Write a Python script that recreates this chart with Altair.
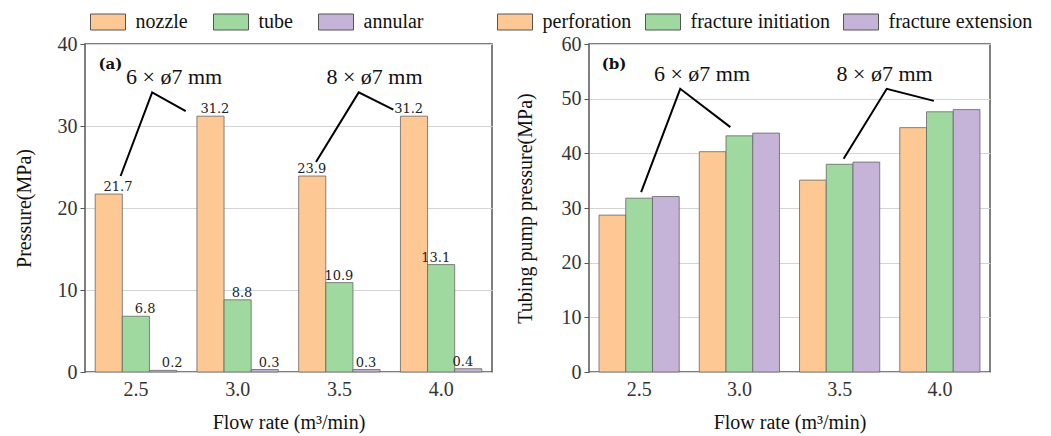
import altair as alt
import pandas as pd

# ---------------- data ----------------
flow_rates = ["2.5", "3.0", "3.5", "4.0"]

a_series = ["nozzle", "tube", "annular"]
nozzle = [21.7, 31.2, 23.9, 31.2]
tube = [6.8, 8.8, 10.9, 13.1]
annular = [0.2, 0.3, 0.3, 0.4]

b_series = ["perforation", "fracture initiation", "fracture extension"]
perforation = [28.7, 40.3, 35.1, 44.7]
initiation = [31.8, 43.2, 38.0, 47.6]
extension = [32.1, 43.7, 38.4, 48.0]

colors = ["#FDC894", "#A0D9A0", "#C5B3D8"]

# annotation callouts (x in category units 0..4, y in MPa)
a_line_x = [[0.35, 0.66, 0.99], [2.27, 2.69, 3.03]]
a_line_y = [[23.9, 34.1, 31.8], [25.6, 34.1, 32.0]]
a_label_x = [0.875, 2.845]
a_label_y = [35.1, 35.1]
b_line_x = [[0.52, 0.91, 1.41], [2.54, 2.97, 3.44]]
b_line_y = [[32.9, 51.8, 44.8], [39.0, 51.8, 49.6]]
b_label_x = [1.127, 2.948]
b_label_y = [53.2, 53.2]
callout_text = ["6 × ø7 mm", "8 × ø7 mm"]

FONT = "Liberation Serif"


def long_df(series, cols):
    rows = []
    for s, vals in zip(series, cols):
        for f, v in zip(flow_rates, vals):
            rows.append({"flow": f, "series": s, "value": v})
    return pd.DataFrame(rows)


def lines_df(xs, ys):
    rows = []
    for g, (lx, ly) in enumerate(zip(xs, ys)):
        for i, (x, y) in enumerate(zip(lx, ly)):
            rows.append({"g": g, "i": i, "x": x, "value": y})
    return pd.DataFrame(rows)


def panel(df, series, ymax, yvals, ytitle, width, legend_x, col_pad,
          line_xs, line_ys, lab_x, lab_y, tag, tag_x, tag_y, with_values,
          title_pad):
    xenc = alt.X("flow:N", sort=flow_rates,
                 scale=alt.Scale(paddingInner=0.2, paddingOuter=0.1),
                 axis=alt.Axis(title="Flow rate (m³/min)", labelAngle=0,
                               ticks=False, domain=False, labelPadding=7,
                               titlePadding=13))
    xoff = alt.XOffset("series:N", sort=series,
                       scale=alt.Scale(paddingInner=0, paddingOuter=0))
    yaxis = alt.Axis(title=ytitle, values=yvals, grid=True,
                     gridColor="#d4d4d4", domain=False,
                     tickSize=5, tickColor="#555", labelPadding=3,
                     titlePadding=title_pad)
    yscale = alt.Scale(domain=[0, ymax], nice=False)
    yenc = alt.Y("value:Q", scale=yscale, axis=yaxis, title=ytitle)
    bars = alt.Chart(df).mark_bar(stroke="#666", strokeWidth=0.8).encode(
        x=xenc, xOffset=xoff, y=yenc,
        color=alt.Color("series:N", sort=series,
                        scale=alt.Scale(domain=series, range=colors),
                        legend=alt.Legend(
                            title=None, orient="none", direction="horizontal",
                            legendX=legend_x, legendY=-32, padding=0,
                            symbolType="M-2.1875,-1H2.1875V1H-2.1875Z",
                            symbolSize=256, symbolStrokeColor="#555",
                            symbolStrokeWidth=1, symbolOpacity=1,
                            labelFont=FONT, labelFontSize=20,
                            labelColor="#111", labelOffset=17.5,
                            columnPadding=col_pad, labelLimit=300)),
    )
    layers = [bars]
    if with_values:
        txt = alt.Chart(df).mark_text(
            font="DejaVu Serif", fontSize=13, baseline="alphabetic", dy=-3,
            color="#222").encode(
            x=alt.X("flow:N", sort=flow_rates, axis=None),
            xOffset=xoff,
            y=alt.Y("value:Q", scale=yscale, axis=yaxis, title=ytitle),
            text=alt.Text("value:Q", format=".1f"))
        layers.append(txt)

    qx = alt.X("x:Q", scale=alt.Scale(domain=[0, 4], nice=False, zero=False),
               axis=None)
    qy = alt.Y("value:Q", scale=yscale, axis=yaxis, title=ytitle)
    ldf = lines_df(line_xs, line_ys)
    lines = alt.Chart(ldf).mark_line(color="black", strokeWidth=2).encode(
        x=qx, y=qy, detail="g:N", order="i:Q")
    tdf = pd.DataFrame({"x": lab_x, "value": lab_y, "t": callout_text})
    labels = alt.Chart(tdf).mark_text(font=FONT, fontSize=22,
                                      baseline="alphabetic",
                                      color="#111").encode(
        x=qx, y=qy, text="t:N")
    tagdf = pd.DataFrame({"x": [tag_x], "value": [tag_y], "t": [tag]})
    tagm = alt.Chart(tagdf).mark_text(font="DejaVu Serif", fontSize=15,
                                      fontWeight="bold", baseline="alphabetic",
                                      color="#111").encode(
        x=qx, y=qy, text="t:N")
    layers += [lines, labels, tagm]
    return alt.layer(*layers).resolve_scale(
        x="independent", color="independent").properties(width=width,
                                                         height=328)


left = panel(long_df(a_series, [nozzle, tube, annular]), a_series, 40,
             [0, 10, 20, 30, 40], "Pressure(MPa)", 407, 13, 23,
             a_line_x, a_line_y, a_label_x, a_label_y, "(a)", 0.25, 37.0, True,
             23)
right = panel(long_df(b_series, [perforation, initiation, extension]),
              b_series, 60, [0, 10, 20, 30, 40, 50, 60],
              "Tubing pump pressure(MPa)", 401, -84, 11,
              b_line_x, b_line_y, b_label_x, b_label_y, "(b)", 0.25, 55.4,
              False, 26)

chart = alt.hconcat(left, right, spacing=11).resolve_scale(
    color="independent", y="independent", x="independent",
    xOffset="independent").properties(
    padding={"left": 5, "top": 3, "right": 5, "bottom": 5}
).configure(font=FONT).configure_view(
    stroke="#555", strokeWidth=1.5
).configure_axis(
    labelFont=FONT, labelFontSize=20, labelColor="#333",
    titleFont=FONT, titleFontSize=20, titleColor="#111",
    titleFontWeight="normal"
)

chart.save("out.html", embed_options={"renderer": "svg", "actions": False})
